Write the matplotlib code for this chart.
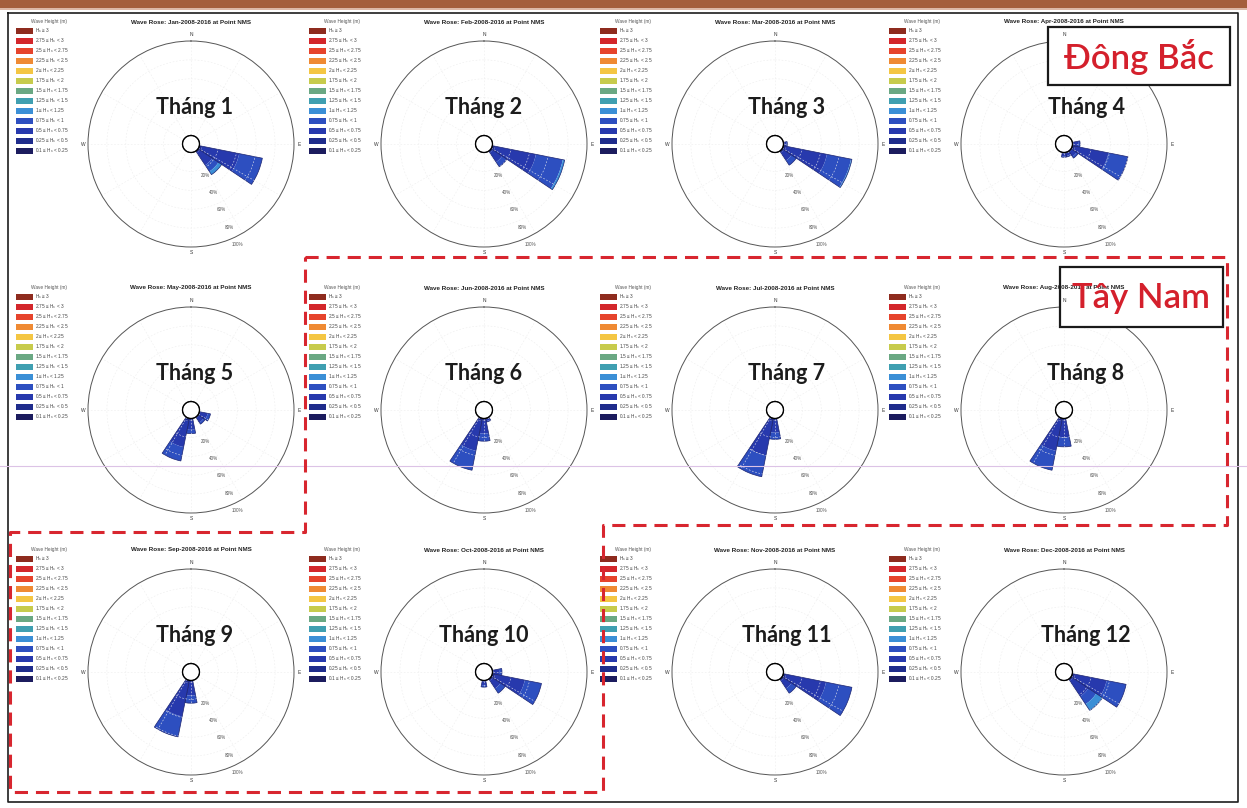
import numpy as np
import matplotlib
matplotlib.use("Agg")
import matplotlib.pyplot as plt
from matplotlib.patches import Rectangle

W, H = 1247, 808

MONTHS = ["Jan", "Feb", "Mar", "Apr", "May", "Jun",
          "Jul", "Aug", "Sep", "Oct", "Nov", "Dec"]
DIRS = ["N", "NNE", "NE", "ENE", "E", "ESE", "SE", "SSE",
        "S", "SSW", "SW", "WSW", "W", "WNW", "NW", "NNW"]

HS_LABELS = ["H$_s$ ≥ 3", "2.75 ≤ H$_s$ < 3", "2.5 ≤ H$_s$ < 2.75",
             "2.25 ≤ H$_s$ < 2.5", "2 ≤ H$_s$ < 2.25", "1.75 ≤ H$_s$ < 2",
             "1.5 ≤ H$_s$ < 1.75", "1.25 ≤ H$_s$ < 1.5", "1 ≤ H$_s$ < 1.25",
             "0.75 ≤ H$_s$ < 1", "0.5 ≤ H$_s$ < 0.75", "0.25 ≤ H$_s$ < 0.5",
             "0.1 ≤ H$_s$ < 0.25"]
HS_COLORS = ["#8e2b1e", "#d3272b", "#e6442c", "#ef8a33", "#f4c643",
             "#c7cb4c", "#6aa883", "#3f9fb1", "#3b8fd6", "#2d4fc0",
             "#2739ad", "#1f2c8c", "#1c1c5e"]

# classes stacked in each petal, inner to outer (index into HS_LABELS)
ROSE_BINS = [11, 10, 9, 8]

# occurrence (%) per direction: 0.25-0.5 / 0.5-0.75 / 0.75-1 / 1-1.25 m
jan = {"ESE": [3, 40, 25, 0], "SE": [2, 16, 8, 4]}
feb = {"ESE": [3, 44, 29, 2], "SE": [2, 12, 6, 0]}
mar = {"E": [1, 2, 1, 0], "ESE": [3, 44, 26, 1], "SE": [2, 10, 6, 0]}
apr = {"E": [1, 5, 2, 0], "ESE": [3, 36, 21, 0], "SE": [1, 6, 2, 0],
       "SSE": [1, 3, 1, 0], "S": [1, 3, 1, 0]}
may = {"ESE": [1, 8, 3, 0], "SE": [1, 6, 2, 0], "S": [2, 10, 4, 0],
       "SSW": [3, 28, 15, 0]}
jun = {"SSE": [1, 2, 1, 0], "S": [2, 14, 8, 0], "SSW": [3, 32, 21, 0]}
jul = {"S": [2, 13, 7, 0], "SSW": [3, 37, 23, 0]}
aug = {"S": [2, 18, 10, 0], "SSW": [3, 32, 21, 0]}
sep = {"S": [2, 14, 8, 0], "SSW": [3, 36, 22, 0]}
oct_ = {"E": [1, 6, 3, 0], "ESE": [3, 32, 18, 0], "SE": [2, 10, 6, 0],
        "S": [1, 4, 2, 0]}
nov = {"ESE": [3, 43, 28, 0], "SE": [2, 10, 6, 0]}
dec = {"ESE": [3, 34, 21, 0], "SE": [2, 20, 10, 8]}
ROSES = [jan, feb, mar, apr, may, jun, jul, aug, sep, oct_, nov, dec]

RING_PCT = [20, 40, 60, 80, 100]

# layout (pixels)
COL_X = [191, 484, 775, 1064]
ROW_Y = [144, 410, 672]
R = 103
THANG_DX = [4, 0, 12, 22]

plt.rcParams["font.family"] = ["Liberation Sans", "DejaVu Sans"]
fig = plt.figure(figsize=(W / 100, H / 100), dpi=100, facecolor="white")

for i, (month, rose) in enumerate(zip(MONTHS, ROSES)):
    r, c = divmod(i, 4)
    cx, cy = COL_X[c], ROW_Y[r]
    ax = fig.add_axes([(cx - R) / W, 1 - (cy + R) / H, 2 * R / W, 2 * R / H],
                      projection="polar")
    ax.set_facecolor("none")
    ax.set_theta_zero_location("N")
    ax.set_theta_direction(-1)
    ax.set_ylim(0, 100)
    ax.set_rorigin(-9)
    ax.set_rgrids([20, 40, 60, 80], labels=[])
    ax.set_thetagrids(np.arange(0, 360, 30), labels=[])
    ax.grid(color="#ededed", lw=0.4, ls=(0, (3, 3)))
    ax.spines["polar"].set_color("#555555")
    ax.spines["polar"].set_linewidth(0.7)

    wid = np.deg2rad(22.5)
    for d, vals in rose.items():
        th = np.deg2rad(DIRS.index(d) * 22.5)
        bottom = 0
        for k, v in zip(ROSE_BINS, vals):
            if v:
                ax.bar(th, v, width=wid, bottom=bottom, color=HS_COLORS[k], lw=0)
            bottom += v
        ax.bar(th, bottom, width=wid, facecolor="none",
               edgecolor="#1c2470", lw=0.5)

    # calm circle at the origin
    t = np.linspace(0, 2 * np.pi, 200)
    ax.plot(t, np.zeros_like(t), color="#222222", lw=0.9, clip_on=False)

    for p in RING_PCT:
        ax.text(np.deg2rad(155), p + 8, f"{p}%", fontsize=3.3,
                color="#555555", ha="center", va="center")

# overlay for text, legends and frames, in pixel coordinates
ov = fig.add_axes([0, 0, 1, 1])
ov.set_xlim(0, W)
ov.set_ylim(H, 0)
ov.axis("off")
ov.set_zorder(5)
ov.patch.set_alpha(0)

# scanned page edge at the top
ov.add_patch(Rectangle((0, 0), W, 8, color="#a45f3d", lw=0))
ov.add_patch(Rectangle((0, 8), W, 2, color="#dcb9a8", lw=0))
ov.plot([8, 1238, 1238, 8, 8], [13, 13, 802, 802, 13], color="#1e1e1e", lw=1.2)
ov.plot([0, W], [466, 466], color="#dcc3e6", lw=0.8)

for i, month in enumerate(MONTHS):
    r, c = divmod(i, 4)
    cx, cy = COL_X[c], ROW_Y[r]
    ov.text(cx, cy - 122, f"Wave Rose: {month}-2008-2016 at Point NMS",
            fontsize=4.5, fontweight="bold", ha="center", va="center",
            color="#222222")
    ov.text(cx, cy - R - 6, "N", fontsize=3.5, ha="center", va="center", color="#333")
    ov.text(cx, cy + R + 6, "S", fontsize=3.5, ha="center", va="center", color="#333")
    ov.text(cx - R - 5, cy, "W", fontsize=3.5, ha="center", va="center", color="#333")
    ov.text(cx + R + 5, cy, "E", fontsize=3.5, ha="center", va="center", color="#333")

    # colour key
    ov.text(cx - 142, cy - 122, "Wave Height (m)", fontsize=3.4,
            ha="center", va="center", color="#555")
    for j, (lab, col) in enumerate(zip(HS_LABELS, HS_COLORS)):
        y = cy - 113 + 10 * j
        ov.add_patch(Rectangle((cx - 175, y - 3.2), 17, 6.4, color=col, lw=0))
        ov.text(cx - 156, y, lab, fontsize=3.4, ha="left", va="center",
                color="#444")

    ov.text(cx + THANG_DX[c], cy - 36, f"Tháng {i + 1}", fontsize=15.5,
            fontweight="bold", family="Lato", ha="center", va="center",
            color="#1c1c1c")

# monsoon grouping: south-west season outlined in red
ov.plot([305, 1227, 1227, 603, 603, 10, 10, 305, 305],
        [257, 257, 525, 525, 792, 792, 532, 532, 257],
        color="#d8262f", lw=2.2, ls=(0, (4.3, 2.6)))

for x0, y0, w, h, label in [(1048, 27, 182, 58, "Đông Bắc"),
                            (1060, 267, 163, 60, "Tây Nam")]:
    ov.add_patch(Rectangle((x0, y0), w, h, facecolor="white",
                           edgecolor="#1a1a1a", lw=1.6))
    ov.text(x0 + w / 2, y0 + h / 2 + 1, label, fontsize=25, family="Lato",
            fontweight="semibold", color="#d4202c", ha="center", va="center")

fig.savefig("out.png", dpi=100, facecolor="white")
